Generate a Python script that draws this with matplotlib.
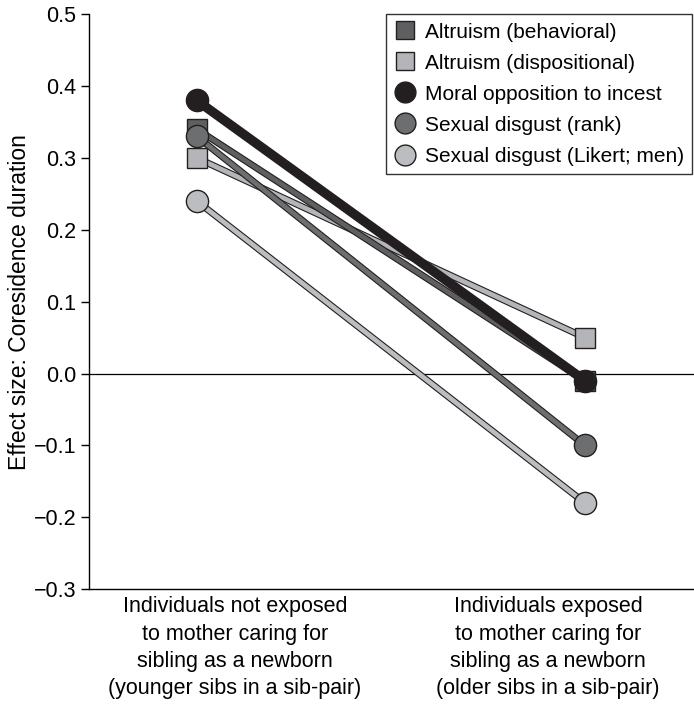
import numpy as np
import matplotlib
matplotlib.use("Agg")
import matplotlib.pyplot as plt
import matplotlib.patheffects as pe

plt.rcParams['font.family'] = ['Liberation Sans', 'DejaVu Sans']

# data
groups = ["Individuals not exposed\nto mother caring for\nsibling as a newborn\n(younger sibs in a sib-pair)",
          "Individuals exposed\nto mother caring for\nsibling as a newborn\n(older sibs in a sib-pair)"]
series = ["Altruism (behavioral)", "Altruism (dispositional)", "Moral opposition to incest",
          "Sexual disgust (rank)", "Sexual disgust (Likert; men)"]
altruism_beh = [0.34, -0.01]
altruism_disp = [0.30, 0.05]
moral_incest = [0.38, -0.01]
disgust_rank = [0.33, -0.10]
disgust_likert = [0.24, -0.18]

values = [altruism_beh, altruism_disp, moral_incest, disgust_rank, disgust_likert]
markers = ["s", "s", "o", "o", "o"]
colors = ["#5f5f61", "#b4b5b8", "#231f20", "#6d6e70", "#bcbdc0"]
lws = [3.4, 3.4, 5.2, 3.4, 3.4]
msizes = [14, 14, 16, 16, 16]
zorder_of = [3, 2, 6, 5, 4]
EDGE = "#231f20"

fig = plt.figure(figsize=(6.94, 7.09), dpi=100)
ax = fig.add_axes([0.128, 0.169, 0.872, 0.811])

x = np.array([0.0, 1.0])
ax.axhline(0, color="black", lw=0.9, zorder=1)
handles = []
for v, m, c, lw, ms, z, name in zip(values, markers, colors, lws, msizes, zorder_of, series):
    ln, = ax.plot(x, v, color=c, lw=lw, zorder=z, solid_capstyle="butt")
    ln.set_path_effects([pe.Stroke(linewidth=lw + 1.6, foreground=EDGE), pe.Normal()])
    ax.plot(x, v, ls="none", marker=m, ms=ms, mfc=c, mec=EDGE, mew=1.0, zorder=z + 0.5)
    h, = ax.plot([], [], ls="none", marker=m, ms=ms - 1, mfc=c, mec=EDGE, mew=1.0)
    handles.append(h)

ax.set_xlim(-0.278, 1.281)
ax.set_ylim(-0.3, 0.5)
yt = np.arange(-0.3, 0.51, 0.1)
ax.set_yticks(yt)
ax.set_yticklabels([f"{t:.1f}".replace("-", "\u2212") for t in yt])
ax.set_xticks([0.098, 0.905])
ax.set_xticklabels(groups, fontsize=15.5, linespacing=1.4)
ax.tick_params(axis="x", length=0, pad=5)
ax.tick_params(axis="y", labelsize=15.5, length=6, width=1, direction="out", pad=3)
ax.set_ylabel("Effect size: Coresidence duration", fontsize=16.5, labelpad=2)
for s in ["top", "right"]:
    ax.spines[s].set_visible(False)
ax.spines["left"].set_linewidth(1.0)
ax.spines["bottom"].set_linewidth(1.0)

leg = ax.legend(handles, series, loc="upper right", bbox_to_anchor=(0.997, 1.0),
                fontsize=15, frameon=True, fancybox=False, handletextpad=0.45,
                handlelength=1.0, labelspacing=0.58, borderpad=0.4, borderaxespad=0.0)
leg.get_frame().set_edgecolor("black")
leg.get_frame().set_linewidth(1.0)

fig.savefig("out.png", dpi=100)
